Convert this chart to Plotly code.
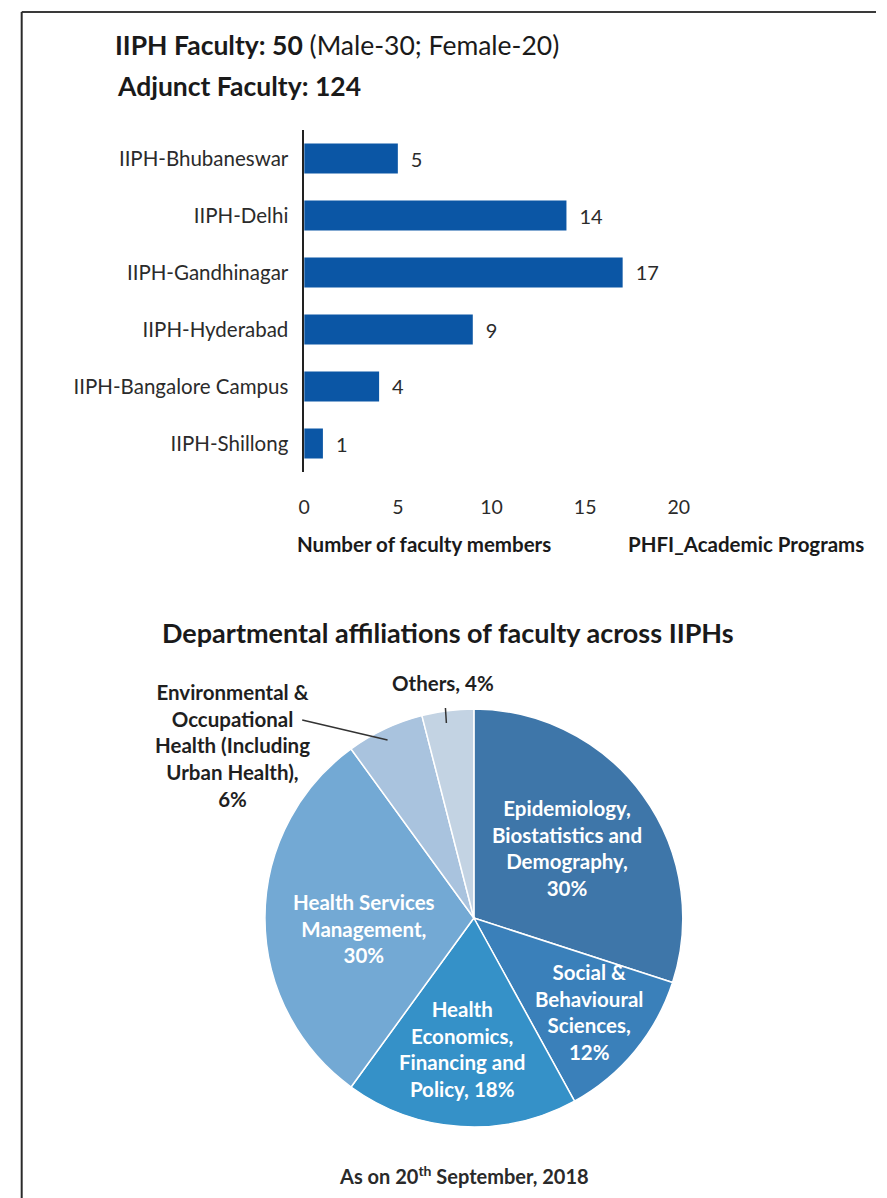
import plotly.graph_objects as go

W, H = 887, 1198

# ---- data ----
campuses = ["IIPH-Bhubaneswar", "IIPH-Delhi", "IIPH-Gandhinagar", "IIPH-Hyderabad",
            "IIPH-Bangalore Campus", "IIPH-Shillong"]
faculty_counts = [5, 14, 17, 9, 4, 1]
x_ticks = [0, 5, 10, 15, 20]

departments = ["Epidemiology, Biostatistics and Demography",
               "Social & Behavioural Sciences",
               "Health Economics, Financing and Policy",
               "Health Services Management",
               "Environmental & Occupational Health (Including Urban Health)",
               "Others"]
dept_label_lines = ["Epidemiology,<br>Biostatistics and<br>Demography,<br>",
                    "Social &<br>Behavioural<br>Sciences,<br>",
                    "Health<br>Economics,<br>Financing and<br>Policy, ",
                    "Health Services<br>Management,<br>",
                    "Environmental &<br>Occupational<br>Health (Including<br>Urban Health),<br>",
                    "Others, "]
dept_share = [30, 12, 18, 30, 6, 4]

# ---- style ----
FONT = "Lato"
BAR_COLOR = "#0b56a5"
PIE_COLORS = ["#3e76a9", "#3a80ba", "#3591c8", "#73a9d4", "#a9c3de", "#c3d3e3"]
TXT = "#2b2b2b"


def px(x):
    return x / W


def py(y):
    return 1 - y / H


fig = go.Figure()

fig.add_trace(go.Bar(
    y=campuses, x=faculty_counts, orientation="h",
    marker=dict(color=BAR_COLOR, line=dict(width=0)),
    text=["\u2002" + str(v) for v in faculty_counts], textposition="outside",
    textfont=dict(family=FONT, size=20, color=TXT),
    cliponaxis=False, xaxis="x", yaxis="y", showlegend=False,
))

fig.add_trace(go.Pie(
    labels=departments, values=dept_share, sort=False, direction="clockwise",
    rotation=0, marker=dict(colors=PIE_COLORS, line=dict(color="white", width=1.5)),
    textinfo="none", hoverinfo="label+percent", showlegend=False,
    domain=dict(x=[px(264), px(690)], y=[py(1131), py(705)]),
))


def note(text, x, y, size, color="#1a1a1a", xanchor="center"):
    return dict(text=text, x=px(x), y=py(y), xref="paper", yref="paper",
                xanchor=xanchor, yanchor="middle", showarrow=False, align="center",
                font=dict(family=FONT, size=size, color=color))


annotations = [
    note("<b>IIPH Faculty: 50</b> (Male-30; Female-20)", 109, 45, 26.5, xanchor="left"),
    note("<b>Adjunct Faculty: 124</b>", 111, 86, 26.5, xanchor="left"),
    note("<b>Number of faculty members</b>", 426, 544, 20.5),
    note("<b>PHFI_Academic Programs</b>", 632, 544, 20.5, xanchor="left"),
    note("<b>Departmental affiliations of faculty across IIPHs</b>", 451, 632, 27),
    note("<b>As on 20<sup>th</sup> September, 2018</b>", 467, 1175, 20, color="#2a2a2a"),
]

# pie labels (centre positions in pixels)
label_pos = [(572, 848), (594, 1012), (465, 1049), (365, 928), (231, 745), (446, 683)]
label_col = ["white", "white", "white", "white", "#1f1f1f", "#1f1f1f"]
for i, (lx, ly) in enumerate(label_pos):
    annotations.append(note("<b>" + dept_label_lines[i] + f"{dept_share[i]}%</b>",
                            lx, ly, 20.5, color=label_col[i]))

fig.update_layout(annotations=annotations)

shapes = [
    # frame
    dict(type="line", xref="paper", yref="paper", x0=px(16), x1=1, y0=py(12), y1=py(12),
         line=dict(color="#3a3a3a", width=2)),
    dict(type="line", xref="paper", yref="paper", x0=px(16), x1=px(16), y0=py(12), y1=0,
         line=dict(color="#2a2a2a", width=2)),
    # leader lines
    dict(type="line", xref="paper", yref="paper", x0=px(302), x1=px(389), y0=py(720), y1=py(740),
         line=dict(color="#333333", width=1.5)),
    dict(type="line", xref="paper", yref="paper", x0=px(448), x1=px(449), y0=py(708), y1=py(723),
         line=dict(color="#333333", width=1.5)),
]
fig.update_layout(shapes=shapes)

fig.update_layout(
    width=W, height=H, margin=dict(l=0, r=0, t=0, b=0),
    paper_bgcolor="white", plot_bgcolor="white",
    font=dict(family=FONT, color=TXT),
    bargap=0.47,
    xaxis=dict(domain=[px(304), px(686)], range=[0, 20], tickvals=x_ticks,
               showgrid=False, zeroline=False, showline=False, ticks="",
               tickfont=dict(family=FONT, size=19.5, color=TXT), anchor="y",
               ticklabelstandoff=21),
    yaxis=dict(domain=[py(472), py(130)], autorange="reversed", showgrid=False,
               zeroline=False, showline=True, linecolor="#222222", linewidth=1.5,
               ticks="", tickfont=dict(family=FONT, size=20.5, color=TXT), anchor="x",
               ticklabelstandoff=10),
)

fig.write_html("out.html", config={"displayModeBar": False},
               post_script="document.body.style.margin='0';document.body.style.overflow='hidden';")
